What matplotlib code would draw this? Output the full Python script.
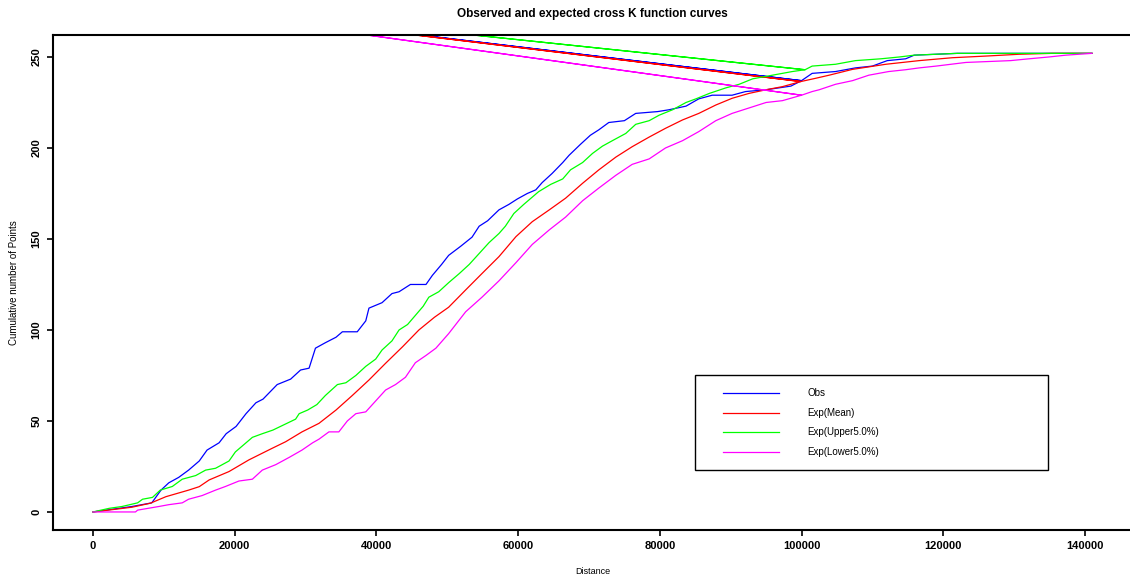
import numpy as np
import matplotlib
matplotlib.use("Agg")
import matplotlib.pyplot as plt
from matplotlib.patches import Rectangle
from matplotlib.lines import Line2D

# ---- cumulative counts of points within each distance ----
obs_d = [0, 5500, 8300, 9600, 10700, 12100, 13500, 15000, 16100, 17800,
         18800, 20200, 21600, 23000, 24000, 26000, 27900, 29300, 30500, 31400,
         32800, 34300, 35200, 37300, 38500, 38950, 40800, 42200, 43200, 44800,
         47000, 47900, 49200, 50200, 51900, 53500, 54500, 55700, 57300, 58700,
         59900, 61300, 62500, 63400, 64800, 66300, 67200, 68800, 70200, 71400,
         72800, 75000, 76600, 79700, 81300, 83700, 85500, 87400, 90200, 92100,
         95000, 98500, 100000, 101500, 104800, 107600, 110000, 111400, 112100, 114700,
         115900, 122000, 141000]
obs_v = [0, 3, 5, 12, 16, 19, 23, 28, 34, 38,
         43, 47, 54, 60, 62, 70, 73, 78, 79, 90,
         93, 96, 99, 99, 105, 112, 115, 120, 121, 125,
         125, 130, 136, 141, 146, 151, 157, 160, 166, 169,
         172, 175, 177, 181, 186, 192, 196, 202, 207, 210,
         214, 215, 219, 220, 221, 223, 227, 229, 229, 231,
         232, 234, 237, 241, 242, 244, 245, 247, 248, 249,
         251, 252, 252]

mean_d = [0, 3200, 5500, 8100, 10300, 13500, 15000, 16400, 19200, 22000,
          25300, 27200, 29500, 31900, 34300, 36600, 38950, 41300, 43700, 46000,
          48200, 50200, 52600, 54900, 57300, 59700, 62000, 64400, 66700, 69100,
          71400, 73800, 76100, 78500, 80800, 83200, 85500, 87900, 90200, 92600,
          95000, 97300, 99900, 102000, 103900, 107200, 111900, 116600, 121300, 126000,
          130700, 135400, 141000]
mean_v = [0, 1.5, 2.6, 4.8, 8.4, 12.0, 13.9, 17.6, 22.2, 28.6,
          35.0, 38.6, 44.0, 48.7, 56.0, 64.0, 72.5, 81.7, 90.8, 100.0,
          107.0, 112.5, 122.0, 131.0, 140.3, 151.3, 159.5, 166.0, 172.4, 180.6,
          188.0, 195.0, 200.7, 206.0, 210.8, 215.4, 219.0, 223.6, 227.3, 230.0,
          232.0, 233.7, 236.5, 238.3, 240.0, 243.2, 246.0, 248.0, 249.6, 250.5,
          251.5, 252.0, 252.0]

upper_d = [0, 2300, 4100, 6300, 7000, 8400, 9500, 11200, 12600, 14500,
           15900, 17300, 19200, 20100, 21300, 22500, 23900, 25400, 27000, 28600,
           29100, 30300, 31600, 32800, 34500, 35700, 37100, 38500, 39900, 40800,
           42200, 43200, 44400, 45500, 46600, 47400, 48800, 50200, 51700, 53100,
           54500, 55900, 57300, 58200, 59400, 60800, 62000, 62900, 64600, 66300,
           67400, 69100, 70500, 71900, 73300, 75200, 76600, 78500, 79900, 81800,
           83700, 85100, 87000, 89300, 91200, 93100, 95900, 98700, 100500, 101500,
           104800, 107600, 111200, 113800, 115900, 122000, 141000]
upper_v = [0, 2, 3, 5, 7, 8, 12, 14, 18, 20,
           23, 24, 28, 33, 37, 41, 43, 45, 48, 51,
           54, 56, 59, 64, 70, 71, 75, 80, 84, 89,
           94, 100, 103, 108, 113, 118, 121, 126, 131, 136,
           142, 148, 153, 157, 164, 169, 173, 176, 180, 183,
           188, 192, 197, 201, 204, 208, 213, 215, 218, 221,
           225, 227, 230, 233, 235, 238, 240, 242, 243, 245,
           246, 248, 249, 250, 251, 252, 252]

lower_d = [0, 6000, 6300, 9300, 10700, 12600, 13500, 15400, 17300, 18700,
           20600, 22500, 23900, 25800, 27700, 29500, 31000, 31900, 33300, 34700,
           35900, 37100, 38500, 39900, 41300, 42700, 44100, 45500, 47000, 48400,
           50200, 52600, 54900, 57300, 59700, 62000, 64400, 66700, 69100, 71400,
           73800, 76100, 78500, 80800, 83200, 85500, 87900, 90200, 92600, 95000,
           97300, 100000, 101500, 102500, 104800, 107200, 109500, 112300, 114700, 116600,
           119000, 123200, 129500, 132100, 134900, 137300, 141000]
lower_v = [0, 0, 1, 3, 4, 5, 7, 9, 12, 14,
           17, 18, 23, 26, 30, 34, 38, 40, 44, 44,
           50, 54, 55, 61, 67, 70, 74, 82, 86, 90,
           98, 110, 118, 127, 137, 147, 155, 162, 171, 178,
           185, 191, 194, 200, 204, 209, 215, 219, 222, 225,
           226, 229, 231, 232, 235, 237, 240, 242, 243, 244,
           245, 247, 248, 249, 250, 251, 252]

# stray vertex each curve jumps to (and back from) part way along
stray_d = -7500
stray_v = 287
stray_at = [100000, 99900, 100500, 100000]

labels = ["Obs", "Exp(Mean)", "Exp(Upper5.0%)", "Exp(Lower5.0%)"]
colors = ["#0000FF", "#FF0000", "#00FF00", "#FF00FF"]
series = [(obs_d, obs_v), (mean_d, mean_v), (upper_d, upper_v), (lower_d, lower_v)]

x_ticks = [0, 20000, 40000, 60000, 80000, 100000, 120000, 140000]
y_ticks = [0, 50, 100, 150, 200, 250]


def curve_path(d, v, at):
    d = np.asarray(d, float)
    v = np.asarray(v, float)
    k = int(np.where(d == at)[0][0])
    xs = np.concatenate([d[:k + 1], [stray_d], d[k:]])
    ys = np.concatenate([v[:k + 1], [stray_v], v[k:]])
    return xs, ys


plt.rcParams['font.family'] = ['Liberation Sans', 'DejaVu Sans']

W, H = 1130, 581
AX_L, AX_R, AX_T, AX_B = 53, 1132, 35, 530.3
fig = plt.figure(figsize=(W / 100, H / 100), dpi=100)
ax = fig.add_axes([AX_L / W, 1 - AX_B / H, (AX_R - AX_L) / W, (AX_B - AX_T) / H])

for (d, v), c, at in zip(series, colors, stray_at):
    xs, ys = curve_path(d, v, at)
    ax.plot(xs, ys, color=c, lw=0.9)

ax.set_xlim(-5640, 146640)
ax.set_ylim(-10.08, 262.08)

ax.set_xticks(x_ticks)
ax.set_xticklabels([str(t) for t in x_ticks], fontsize=8, fontweight='bold')
ax.set_yticks(y_ticks)
ax.set_yticklabels([str(t) for t in y_ticks], fontsize=8, fontweight='bold',
                   rotation=90, va='center')
ax.tick_params(axis='both', direction='out', length=4.5, width=1.2, color='black')
ax.tick_params(axis='x', pad=3)
ax.tick_params(axis='y', pad=4)

for s in ax.spines.values():
    s.set_linewidth(1.5)
    s.set_color('black')

ax.set_xlabel("Distance", fontsize=6.5, va='center')
ax.xaxis.set_label_coords(0.5, -(572 - AX_B) / (AX_B - AX_T))
ax.set_ylabel("Cumulative number of Points", fontsize=7, va='center')
ax.yaxis.set_label_coords(-(AX_L - 14) / (AX_R - AX_L), 0.5)

fig.text((AX_L + AX_R) / 2 / W, 1 - 13.6 / H,
         "Observed and expected cross K function curves",
         fontsize=8.5, fontweight='bold', ha='center', va='center')


# legend box placed in figure pixels
def fx(px):
    return px / W


def fy(py):
    return 1 - py / H


fig.patches.append(Rectangle((fx(695), fy(470)), fx(1048) - fx(695), fy(375) - fy(470),
                             transform=fig.transFigure, fill=True, facecolor='white',
                             edgecolor='black', lw=1.0, zorder=5))
rows = [393.3, 412.7, 432.3, 451.7]
for lab, c, ry in zip(labels, colors, rows):
    fig.lines.append(Line2D([fx(723), fx(779)], [fy(ry), fy(ry)], color=c, lw=0.9,
                            transform=fig.transFigure, zorder=6))
    fig.text(fx(807), fy(ry), lab, fontsize=7, ha='left', va='center', zorder=6)

fig.savefig("out.png", dpi=100)
